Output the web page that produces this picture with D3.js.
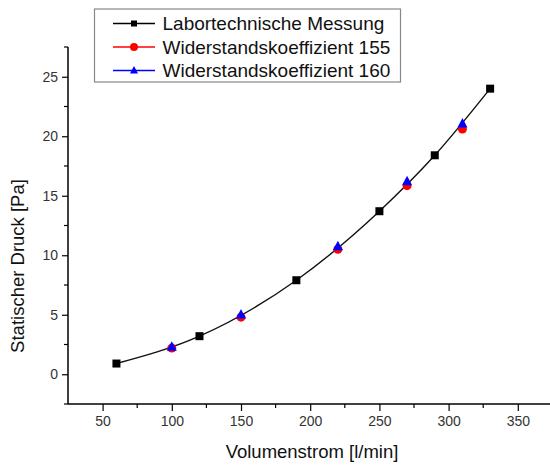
<!DOCTYPE html>
<html><head><meta charset="utf-8">
<script src="https://cdn.jsdelivr.net/npm/d3@7"></script>
<style>body{margin:0;background:#fff}svg{display:block}text{font-family:"Liberation Sans",Arial,sans-serif}</style>
</head><body><svg id="c" width="550" height="465"></svg>
<script>
const seriesNames = ["Labortechnische Messung", "Widerstandskoeffizient 155", "Widerstandskoeffizient 160"];
const measX = [60, 120, 190, 250, 290, 330];
const measY = [0.9, 3.2, 7.9, 13.7, 18.4, 24.0];
const k155X = [100, 150, 220, 270, 310];
const k155Y = [2.2, 4.8, 10.5, 15.85, 20.6];
const k160X = [100, 150, 220, 270, 310];
const k160Y = [2.3, 5.0, 10.75, 16.2, 21.05];
const xTicks = [50, 100, 150, 200, 250, 300, 350];
const yTicks = [0, 5, 10, 15, 20, 25];

const svg = d3.select("#c");
const x = d3.scaleLinear().domain([25, 375]).range([68, 552.4]);
const y = d3.scaleLinear().domain([-2.5, 27.5]).range([404, 47]);

const colors = ["#000000", "#ff0000", "#0000ff"];
const data = [
  measX.map((v, i) => [v, measY[i]]),
  k155X.map((v, i) => [v, k155Y[i]]),
  k160X.map((v, i) => [v, k160Y[i]])
];

// axes
const xMinor = d3.range(75, 376, 50);
const yMinor = d3.range(-2.5, 28, 5);
const gx = svg.append("g").attr("transform", "translate(0,404)");
gx.call(d3.axisBottom(x).tickValues(xTicks).tickSize(7).tickPadding(5).tickFormat(d3.format("d")));
xMinor.forEach(v => gx.append("line").attr("x1", x(v)).attr("x2", x(v)).attr("y1", 0).attr("y2", 4).attr("stroke", "#000").attr("stroke-width", 1.2));
const gy = svg.append("g").attr("transform", "translate(68,0)");
gy.call(d3.axisLeft(y).tickValues(yTicks).tickSize(6).tickPadding(4).tickFormat(d3.format("d")));
yMinor.forEach(v => gy.append("line").attr("y1", y(v)).attr("y2", y(v)).attr("x1", 0).attr("x2", -4).attr("stroke", "#000").attr("stroke-width", 1.2));
[gx, gy].forEach(g => {
  g.select(".domain").attr("stroke", "#000").attr("stroke-width", 1.5);
  g.selectAll(".tick line").attr("stroke", "#000").attr("stroke-width", 1.2);
  g.selectAll(".tick text").attr("font-size", "14px").attr("fill", "#333").attr("font-family", "Liberation Sans, Arial, sans-serif");
});
gx.select(".domain").attr("d", "M68,0H552");
gy.select(".domain").attr("d", "M0,404V47");

// titles
svg.append("text").attr("x", 312).attr("y", 458).attr("text-anchor", "middle").attr("font-size", "18.5px").attr("fill", "#111").text("Volumenstrom [l/min]");
svg.append("text").attr("transform", "translate(24,266) rotate(-90)").attr("text-anchor", "middle").attr("font-size", "18.5px").attr("fill", "#111").text("Statischer Druck [Pa]");

// measured curve (smooth through measured points)
const line = d3.line().x(d => x(d[0])).y(d => y(d[1])).curve(d3.curveMonotoneX);
svg.append("path").datum(data[0]).attr("d", line).attr("fill", "none").attr("stroke", "#111").attr("stroke-width", 1.4);

function marker(g, i, cx, cy, s) {
  if (i === 0) g.append("rect").attr("x", cx - s / 2).attr("y", cy - s / 2).attr("width", s).attr("height", s).attr("fill", "#000");
  else if (i === 1) g.append("circle").attr("cx", cx).attr("cy", cy).attr("r", s / 2).attr("fill", "#ff0000");
  else {
    const h = s * 0.95;
    g.append("path").attr("d", `M${cx},${cy - h * 0.6}L${cx + s / 2},${cy + h * 0.4}L${cx - s / 2},${cy + h * 0.4}Z`).attr("fill", "#0000ff");
  }
}
const gm = svg.append("g");
[0, 1, 2].forEach(i => data[i].forEach(d => marker(gm, i, x(d[0]), y(d[1]), i === 0 ? 8 : (i === 1 ? 9 : 10))));

// legend
const lg = svg.append("g");
lg.append("rect").attr("x", 94.5).attr("y", 9).attr("width", 306).attr("height", 73).attr("fill", "#fff").attr("stroke", "#888").attr("stroke-width", 1.2);
const rows = [23.5, 47, 70.5];
seriesNames.forEach((n, i) => {
  lg.append("line").attr("x1", 113).attr("x2", 155).attr("y1", rows[i]).attr("y2", rows[i]).attr("stroke", colors[i]).attr("stroke-width", 1.3);
  marker(lg, i, 134, rows[i], i === 0 ? 6 : (i === 1 ? 8 : 8));
  lg.append("text").attr("x", 162.5).attr("y", rows[i]).attr("dy", "0.35em").attr("font-size", "19px").attr("fill", "#111").text(n);
});
</script></body></html>
